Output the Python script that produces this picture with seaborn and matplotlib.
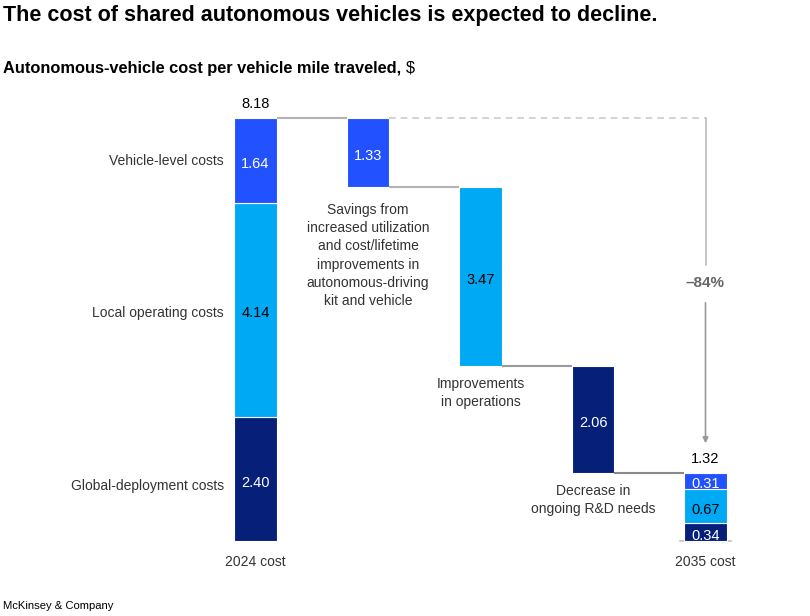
import numpy as np
import pandas as pd
import matplotlib
matplotlib.use("Agg")
import matplotlib.pyplot as plt
import seaborn as sns

# Data
categories = ["2024 cost", "Vehicle savings", "Operations savings", "R&D savings", "2035 cost"]
vehicle_level = [1.64, 1.33, 0, 0, 0.31]
local_operating = [4.14, 0, 3.47, 0, 0.67]
global_deployment = [2.40, 0, 0, 2.06, 0.34]
total_2024 = 8.18
total_2035 = 1.32
change_pct = "\u201384%"

segment_names = ["Vehicle-level costs", "Local operating costs", "Global-deployment costs"]
step_notes = [
    "Savings from\nincreased utilization\nand cost/lifetime\nimprovements in\nautonomous-driving\nkit and vehicle",
    "Improvements\nin operations",
    "Decrease in\nongoing R&D needs",
]

colors = {"vehicle": "#2251ff", "local": "#00a9f4", "global": "#061f79"}
text_col = "#333333"

sns.set_theme(style="white")
plt.rcParams["font.family"] = ["Liberation Sans", "DejaVu Sans"]

# bottoms for each layer
n = len(categories)
steps = [vehicle_level[i] + local_operating[i] + global_deployment[i] for i in range(n)]
level = [0.0] * n
run = total_2024
for i in range(1, n - 1):
    run -= steps[i]
    level[i] = run  # bottom of floating bar
bottom_global = [0.0, 0, 0, level[3], 0.0]
bottom_local = [global_deployment[0], 0, level[2], 0, global_deployment[4]]
bottom_vehicle = [global_deployment[0] + local_operating[0], level[1], 0, 0,
                  global_deployment[4] + local_operating[4]]

fig = plt.figure(figsize=(8.1, 6.16), dpi=100)
ax = fig.add_axes([0, 0, 1, 1])

# pixel mapping helpers
def X(px):
    return (px - 255.5) / 112.5

def Y(py):
    return (541 - py) / 51.71

bw = 0.382
for vals, bots, key in [(global_deployment, bottom_global, "global"),
                        (local_operating, bottom_local, "local"),
                        (vehicle_level, bottom_vehicle, "vehicle")]:
    idx = [i for i in range(n) if vals[i] > 0]
    df = pd.DataFrame({"cat": [categories[i] for i in idx], "val": [vals[i] for i in idx]})
    sns.barplot(data=df, x="cat", y="val", order=categories, color=colors[key],
                bottom=[bots[i] for i in idx], width=bw, edgecolor="white",
                linewidth=0.8, saturation=1, errorbar=None, ax=ax)

ax.set_xlim(X(0), X(810))
ax.set_ylim(Y(616), Y(0))
ax.axis("off")

# value labels
fs_val = 10.5
for vals, bots, key in [(global_deployment, bottom_global, "global"),
                        (local_operating, bottom_local, "local"),
                        (vehicle_level, bottom_vehicle, "vehicle")]:
    for i in range(n):
        if vals[i] > 0:
            c = "black" if key == "local" else "white"
            ax.text(i, bots[i] + vals[i] / 2 - 0.04, f"{vals[i]:.2f}", ha="center",
                    va="center_baseline", color=c, fontsize=fs_val)

ax.text(0, total_2024 + 0.27, f"{total_2024:.2f}", ha="center", va="center", fontsize=fs_val, color="black")
ax.text(4, total_2035 + 0.27, f"{total_2035:.2f}", ha="center", va="center", fontsize=fs_val, color="black")

# connectors
half = bw / 2
conn_y = [total_2024, level[1], level[2], level[3]]
conn_c = ["#b3b3b3", "#b3b3b3", "#9a9a9a", "#8a8a8a"]
for i in range(4):
    ax.plot([i + half, i + 1 - half], [conn_y[i], conn_y[i]], color=conn_c[i], lw=1.5,
            solid_capstyle="butt", zorder=1)
ax.plot([1 + half, 4], [total_2024, total_2024], color="#cccccc", lw=1.2, ls=(0, (4, 3)), zorder=1)
ax.plot([4, 4], [total_2024, Y(265)], color="#bbbbbb", lw=1.2, zorder=1)
ax.annotate("", xy=(4, Y(446)), xytext=(4, Y(300)),
            arrowprops=dict(arrowstyle="-|>", color="#999999", lw=1.2, mutation_scale=8))
ax.text(4, Y(283), change_pct, ha="center", va="center", fontsize=11, color="#666666", fontweight="bold")
ax.plot([4 - half - 0.04, 4 + half + 0.04], [0, 0], color="#cccccc", lw=1.5, zorder=0)

# segment names at left
name_y = [Y(161), Y(313), Y(486)]
for name, yy in zip(segment_names, name_y):
    ax.text(X(224), yy, name, ha="right", va="center", fontsize=10, color=text_col)

# step notes
ax.text(1, Y(203), step_notes[0], ha="center", va="top", fontsize=10, color=text_col, linespacing=1.38)
ax.text(2, Y(377), step_notes[1], ha="center", va="top", fontsize=10, color=text_col, linespacing=1.38)
ax.text(3, Y(484), step_notes[2], ha="center", va="top", fontsize=10, color=text_col, linespacing=1.38)

# category labels
ax.text(0, Y(562), "2024 cost", ha="center", va="center", fontsize=10, color=text_col)
ax.text(4, Y(562), "2035 cost", ha="center", va="center", fontsize=10, color=text_col)

# titles
fig.text(3 / 810, 1 - 15 / 616, "The cost of shared autonomous vehicles is expected to decline.",
         ha="left", va="center", fontsize=15.5, fontweight="bold", color="black")
fig.text(3 / 810, 1 - 68 / 616, "Autonomous-vehicle cost per vehicle mile traveled,",
         ha="left", va="center", fontsize=11.8, fontweight="bold", color="black")
fig.text(406 / 810, 1 - 68 / 616, "$", ha="left", va="center", fontsize=11.8, color="black")
fig.text(3 / 810, 1 - 606 / 616, "McKinsey & Company", ha="left", va="center", fontsize=8.1, color="black")

fig.savefig("out.png", dpi=100)
